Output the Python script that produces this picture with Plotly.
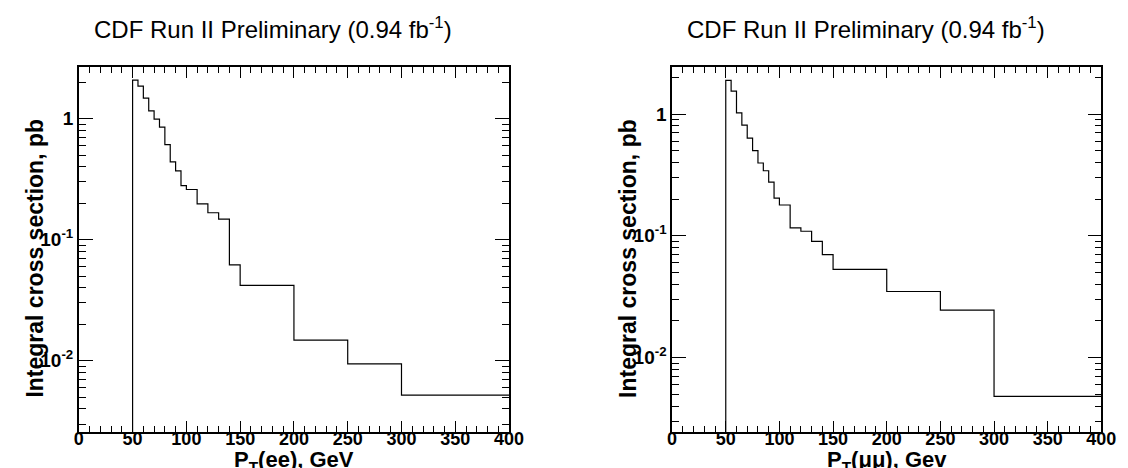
import plotly.graph_objects as go

# ---- data ----
bin_edges = [50, 55, 60, 65, 70, 75, 80, 85, 90, 95, 100, 110, 120, 130, 140, 150, 200, 250, 300, 400]
xsec_ee = [2.08, 1.86, 1.48, 1.16, 0.99, 0.85, 0.61, 0.44, 0.37, 0.28, 0.26, 0.198, 0.167, 0.148,
           0.062, 0.0419, 0.0148, 0.0094, 0.0052]
xsec_mumu = [1.89, 1.54, 1.02, 0.81, 0.635, 0.50, 0.396, 0.342, 0.276, 0.204, 0.179, 0.116, 0.109,
             0.090, 0.070, 0.053, 0.0349, 0.0245, 0.0048]
x_tickvals = [0, 50, 100, 150, 200, 250, 300, 350, 400]
y_tickvals = [0.01, 0.1, 1]
y_ticktext = ["10<sup>-2</sup>", "10<sup>-1</sup>", "1"]
plot_title = "CDF Run II Preliminary (0.94 fb<sup>-1</sup>)"
y_title = "Integral cross section, pb"
x_title_ee = "P<sub>T</sub>(ee), GeV"
x_title_mumu = "P<sub>T</sub>(μμ), Gev"

W, H = 1128, 468
FONT = "Liberation Sans, Arial, Helvetica, sans-serif"

# pixel geometry of the two frames
left_px = (67, 505)
right_px = (671, 1108)
top_px, bottom_px = 59, 424
yrange_ee = [-2.589, 0.427]
yrange_mumu = [-2.611, 0.386]


def px_x(p):
    return p / W


def px_y(p):
    return 1 - p / H


fig = go.Figure()


def step_trace(values, xa, ya, yrange):
    base = 10 ** (yrange[0] - 1)
    xs = [bin_edges[0]] + bin_edges
    ys = [base] + values + [values[-1]]
    return go.Scatter(x=xs, y=ys, mode="lines", line=dict(color="black", width=1.2, shape="hv"),
                      xaxis=xa, yaxis=ya, showlegend=False, hoverinfo="skip")


fig.add_trace(step_trace(xsec_ee, "x", "y", yrange_ee))
fig.add_trace(step_trace(xsec_mumu, "x2", "y2", yrange_mumu))

xcommon = dict(range=[0, 400], tickvals=x_tickvals, ticks="inside", ticklen=11, tickwidth=1,
               tickcolor="black", showline=True, linecolor="black", linewidth=1.5, mirror="allticks",
               showgrid=False, zeroline=False,
               tickfont=dict(family=FONT, size=18, color="black", weight="bold"),
               minor=dict(dtick=10, ticks="inside", ticklen=6, tickcolor="black", tickwidth=1, showgrid=False),
               ticklabelstandoff=-10)
ycommon = dict(type="log", tickvals=y_tickvals, ticktext=y_ticktext, ticks="inside", ticklen=14,
               tickwidth=1, tickcolor="black", showline=True, linecolor="black", linewidth=1.5,
               mirror="allticks", showgrid=False, zeroline=False,
               tickfont=dict(family=FONT, size=19, color="black", weight="bold"),
               minor=dict(dtick="D1", ticks="inside", ticklen=7, tickcolor="black", tickwidth=1, showgrid=False),
               domain=[px_y(bottom_px), px_y(top_px)])

fig.update_layout(
    width=W, height=H, margin=dict(l=0, r=0, t=0, b=0),
    paper_bgcolor="white", plot_bgcolor="white",
    xaxis=dict(domain=[px_x(left_px[0]), px_x(left_px[1])], anchor="y", **xcommon),
    yaxis=dict(anchor="x", range=yrange_ee, **ycommon),
    xaxis2=dict(domain=[px_x(right_px[0]), px_x(right_px[1])], anchor="y2", **xcommon),
    yaxis2=dict(anchor="x2", range=yrange_mumu, **ycommon),
)

ann = []
for x0, xt in [(left_px, x_title_ee), (right_px, x_title_mumu)]:
    ann.append(dict(text=plot_title, x=px_x(x0[0] + 13), y=px_y(20), xref="paper", yref="paper",
                    xanchor="left", yanchor="middle", showarrow=False,
                    font=dict(family=FONT, size=24, color="black")))
    ann.append(dict(text=xt, x=px_x((x0[0] + x0[1]) / 2), y=0, xref="paper", yref="paper",
                    xanchor="center", yanchor="bottom", showarrow=False, borderpad=0, yshift=0,
                    font=dict(family=FONT, size=22, color="black", weight="bold")))
    ann.append(dict(text=y_title, x=px_x(x0[0] - 45), y=px_y(250), xref="paper", yref="paper",
                    xanchor="center", yanchor="middle", textangle=-90, showarrow=False,
                    font=dict(family=FONT, size=23, color="black", weight="bold")))
fig.update_layout(annotations=ann)

fig.write_html("out.html")
